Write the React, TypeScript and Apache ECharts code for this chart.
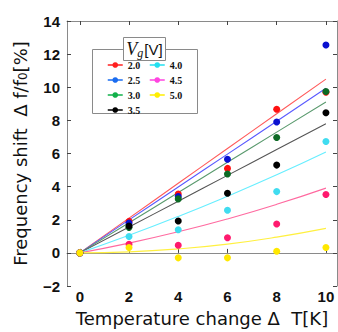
import React, { useEffect, useRef } from "react";
import * as echarts from "echarts";

// Temperature change ΔT [K] at which the frequency shift was measured
const temps = [0, 2, 4, 6, 8, 10];

// Gate voltages V_g [V]
const gateVoltages = ["2.0", "2.5", "3.0", "3.5", "4.0", "4.5", "5.0"];

// Measured frequency shift Δf/f0 [%] for each gate voltage
const measured20 = [0, 1.9, 3.56, 5.1, 8.67, 9.7];
const measured25 = [0, 1.8, 3.4, 5.65, 7.9, 12.55];
const measured30 = [0, 1.54, 3.26, 4.76, 6.97, 9.74];
const measured35 = [0, 1.62, 1.92, 3.6, 5.3, 8.46];
const measured40 = [0, 0.99, 1.4, 2.57, 3.7, 6.72];
const measured45 = [0, 0.52, 0.46, 0.91, 1.74, 3.52];
const measured50 = [0, 0.32, -0.3, -0.3, 0.1, 0.32];

// Fitted curves, evaluated at the same temperatures
const fit20 = [0, 2.1, 4.2, 6.3, 8.4, 10.49];
const fit25 = [0, 1.99, 3.98, 5.96, 7.95, 9.94];
const fit30 = [0, 1.82, 3.64, 5.47, 7.29, 9.11];
const fit35 = [0, 1.56, 3.12, 4.68, 6.24, 7.8];
const fit40 = [0, 1.06, 2.2, 3.42, 4.71, 6.09];
const fit45 = [0, 0.59, 1.27, 2.05, 2.93, 3.91];
const fit50 = [0, 0.06, 0.24, 0.53, 0.95, 1.48];

// Tick labels
const xTicks = [0, 2, 4, 6, 8, 10];

const measured = [measured20, measured25, measured30, measured35, measured40, measured45, measured50];
const fits = [fit20, fit25, fit30, fit35, fit40, fit45, fit50];

const dotColors = ["#ff1010", "#0a10d0", "#0c6a24", "#000000", "#40dcf0", "#ff1a6e", "#ffe800"];
const lineColors = ["#ff5a5a", "#5a5aff", "#5a9a6e", "#555555", "#66eeff", "#ff6aa0", "#fff040"];
const keyColors = ["#ff2020", "#1a6cf0", "#12b04a", "#000000", "#22e0f0", "#ff44e0", "#ffee00"];

const AXIS_COLOR = "#8a8a8a";
const TITLE_FONT = "'DejaVu Sans', 'Noto Sans', sans-serif";

function pairs(values: number[]) {
  return temps.map((t, i) => [t, values[i]]);
}

export default function App() {
  const ref = useRef<HTMLDivElement>(null);

  useEffect(() => {
    if (!ref.current) return;
    const chart = echarts.init(ref.current, undefined, { renderer: "svg" });

    const lineSeries = gateVoltages.map((v, i) => ({
      name: v,
      type: "line",
      data: pairs(fits[i]),
      smooth: true,
      showSymbol: false,
      symbol: "circle",
      symbolSize: 5,
      z: 2,
      itemStyle: { color: keyColors[i] },
      lineStyle: { color: lineColors[i], width: 1.1 },
      silent: true,
    }));

    const dotSeries = gateVoltages.map((v, i) => ({
      name: v + " measured",
      type: "scatter",
      data: pairs(measured[i]),
      symbol: "circle",
      symbolSize: 7,
      z: 3,
      itemStyle: { color: dotColors[i], opacity: 1 },
    }));

    const legendBase = {
      orient: "vertical",
      itemWidth: 15,
      itemHeight: 7,
      itemGap: 5,
      padding: 0,
      z: 10,
      textStyle: {
        fontFamily: "'Liberation Serif', 'DejaVu Serif', serif",
        fontWeight: "bold",
        fontSize: 10,
        color: "#111",
        lineHeight: 8,
      },
    };

    const keyItem = (i: number) => ({
      name: gateVoltages[i],
      itemStyle: { color: keyColors[i] },
      lineStyle: { color: keyColors[i], width: 1.5 },
    });

    const yTitle = {
      a: { fontFamily: TITLE_FONT, fontSize: 18, color: "#111" },
      s: { fontFamily: TITLE_FONT, fontSize: 12, color: "#111", padding: [6, 0, 0, 0] },
    };

    chart.setOption({
      animation: false,
      backgroundColor: "#ffffff",
      grid: { left: 67, top: 21, right: 1, bottom: 41, containLabel: false },
      xAxis: [
        {
          type: "value",
          min: -0.52,
          max: 10.45,
          name: "Temperature change Δ  T[K]",
          nameLocation: "middle",
          nameGap: 23,
          nameTextStyle: { fontFamily: TITLE_FONT, fontSize: 18, color: "#111" },
          axisLine: { show: true, lineStyle: { color: AXIS_COLOR, width: 1 } },
          axisTick: { show: true, inside: true, length: 4, customValues: xTicks, lineStyle: { color: "#444" } },
          axisLabel: {
            customValues: xTicks,
            margin: 3,
            fontFamily: "'Liberation Sans', Arial, sans-serif",
            fontWeight: "bold",
            fontSize: 15,
            color: "#111",
          },
          splitLine: { show: false },
        },
        {
          type: "value",
          position: "top",
          min: -0.52,
          max: 10.45,
          axisLine: { show: true, onZero: false, lineStyle: { color: AXIS_COLOR, width: 1 } },
          axisTick: { show: true, inside: true, length: 4, customValues: xTicks, lineStyle: { color: "#444" } },
          axisLabel: { show: false },
          splitLine: { show: false },
        },
      ],
      yAxis: [
        {
          type: "value",
          min: -2,
          max: 14,
          interval: 2,
          name: "{a|Frequency shift  Δ f/f}{s|0}{a|[%]}",
          nameLocation: "middle",
          nameRotate: 90,
          nameGap: 38,
          nameTextStyle: { rich: yTitle },
          axisLine: { show: true, onZero: false, lineStyle: { color: AXIS_COLOR, width: 1 } },
          axisTick: { show: true, inside: true, length: 4, lineStyle: { color: "#444" } },
          axisLabel: {
            margin: 7,
            fontFamily: "'Liberation Sans', Arial, sans-serif",
            fontWeight: "bold",
            fontSize: 15,
            color: "#111",
            formatter: (v: number) => String(v).replace("-", "\u2212"),
          },
          splitLine: { show: false },
        },
        {
          type: "value",
          position: "right",
          min: -2,
          max: 14,
          interval: 2,
          axisLine: { show: true, onZero: false, lineStyle: { color: AXIS_COLOR, width: 1 } },
          axisTick: { show: true, inside: true, length: 4, lineStyle: { color: "#444" } },
          axisLabel: { show: false },
          splitLine: { show: false },
        },
      ],
      legend: [
        { ...legendBase, left: 107, top: 60, data: [0, 1, 2, 3].map(keyItem) },
        { ...legendBase, left: 149, top: 60, data: [4, 5, 6].map(keyItem) },
      ],
      graphic: [
        {
          type: "rect",
          z: 8,
          shape: { x: 92.5, y: 49.5, width: 105, height: 64 },
          style: { fill: "#ffffff", stroke: AXIS_COLOR, lineWidth: 1 },
        },
        {
          type: "rect",
          z: 11,
          shape: { x: 123.5, y: 37.5, width: 42, height: 23 },
          style: { fill: "#ffffff", stroke: AXIS_COLOR, lineWidth: 1 },
        },
        {
          type: "text",
          z: 12,
          x: 144.5,
          y: 49,
          style: {
            text: "{v|V}{g|g}{u|[V]}",
            align: "center",
            verticalAlign: "middle",
            rich: {
              v: { fontFamily: "'Liberation Serif', serif", fontStyle: "italic", fontSize: 18, fill: "#111" },
              g: {
                fontFamily: "'Liberation Serif', serif",
                fontStyle: "italic",
                fontSize: 12,
                fill: "#111",
                padding: [8, 1, 0, 0],
              },
              u: { fontFamily: "'Liberation Sans', Arial, sans-serif", fontSize: 15, fill: "#111" },
            },
          },
        },
      ],
      series: [...lineSeries, ...dotSeries],
    });

    return () => chart.dispose();
  }, []);

  return <div ref={ref} style={{ width: 338, height: 332, position: "absolute", left: 0, top: 0 }} />;
}
